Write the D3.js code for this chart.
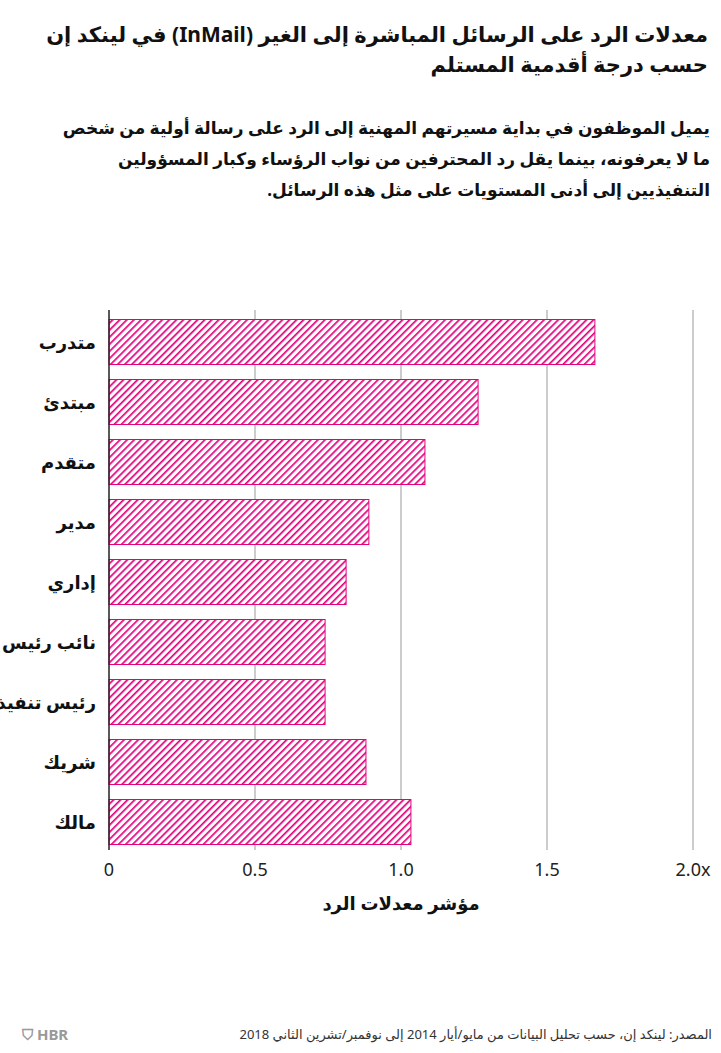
<!DOCTYPE html><html><head><meta charset="utf-8"><script src="https://cdn.jsdelivr.net/npm/d3@7"></script>
<style>body{margin:0;background:#fff;font-family:"Noto Sans","DejaVu Sans",sans-serif}</style></head><body><svg id="c" width="721" height="1053"></svg>
<script>
const categories=["متدرب","مبتدئ","متقدم","مدير","إداري","نائب رئيس","رئيس تنفيذي","شريك","مالك"];
const values=[1.664,1.264,1.082,0.890,0.812,0.740,0.740,0.880,1.034];
const ticks=[0,0.5,1,1.5,2];
const tickLabels=["0","0.5","1.0","1.5","2.0x"];
const svg=d3.select("#c");
const pink="#e5007e";
const defs=svg.append("defs");
const p=defs.append("pattern").attr("id","h").attr("patternUnits","userSpaceOnUse").attr("width",5).attr("height",5).attr("patternTransform","rotate(45)");
p.append("rect").attr("width",5).attr("height",5).attr("fill","#fff");
p.append("rect").attr("width",1.7).attr("height",5).attr("fill",pink);
const T=(t,x,y,s,w,fill)=>svg.append("text").attr("x",x).attr("y",y).attr("text-anchor","start").attr("direction","rtl").attr("font-size",s).attr("font-weight",w||"normal").attr("fill",fill||"#111").text(t);
T("معدلات الرد على الرسائل المباشرة إلى الغير (InMail) في لينكد إن",708,42,21,"bold");
T("حسب درجة أقدمية المستلم",708,72,21,"bold");
T("يميل الموظفون في بداية مسيرتهم المهنية إلى الرد على رسالة أولية من شخص",710,134,17,"bold");
T("ما لا يعرفونه، بينما يقل رد المحترفين من نواب الرؤساء وكبار المسؤولين",710,165,17,"bold");
T("التنفيذيين إلى أدنى المستويات على مثل هذه الرسائل.",710,196,17,"bold");
const x=d3.scaleLinear().domain([0,2]).range([109,693]);
const y=d3.scaleBand().domain(categories).range([312,852]).paddingInner(0.25).paddingOuter(0.125);
const g=svg.append("g");
ticks.forEach(t=>{if(t>0)g.append("line").attr("x1",x(t)).attr("x2",x(t)).attr("y1",310).attr("y2",850).attr("stroke","#bbb").attr("stroke-width",1.5);});
g.selectAll(".b").data(values).join("rect").attr("x",x(0)).attr("y",(d,i)=>y(categories[i])).attr("width",d=>x(d)-x(0)).attr("height",y.bandwidth()).attr("fill","url(#h)").attr("stroke",pink).attr("stroke-width",1);
g.append("line").attr("x1",x(0)).attr("x2",x(0)).attr("y1",310).attr("y2",850).attr("stroke","#222").attr("stroke-width",1.5);
categories.forEach(c=>T(c,96,y(c)+y.bandwidth()/2+7,18,"bold"));
ticks.forEach((t,i)=>svg.append("text").attr("x",x(t)).attr("y",876).attr("text-anchor","middle").attr("font-size",18).attr("fill","#222").text(tickLabels[i]));
svg.append("text").attr("x",401).attr("y",910).attr("text-anchor","middle").attr("direction","rtl").attr("font-size",18).attr("font-weight","bold").attr("fill","#111").text("مؤشر معدلات الرد");
T("المصدر: لينكد إن، حسب تحليل البيانات من مايو/أيار 2014 إلى نوفمبر/تشرين الثاني 2018",712,1039,13,"normal","#333");
svg.append("text").attr("x",22).attr("y",1040).attr("font-size",15).attr("font-weight","bold").attr("fill","#999").text("⛉ HBR");
</script></body></html>
